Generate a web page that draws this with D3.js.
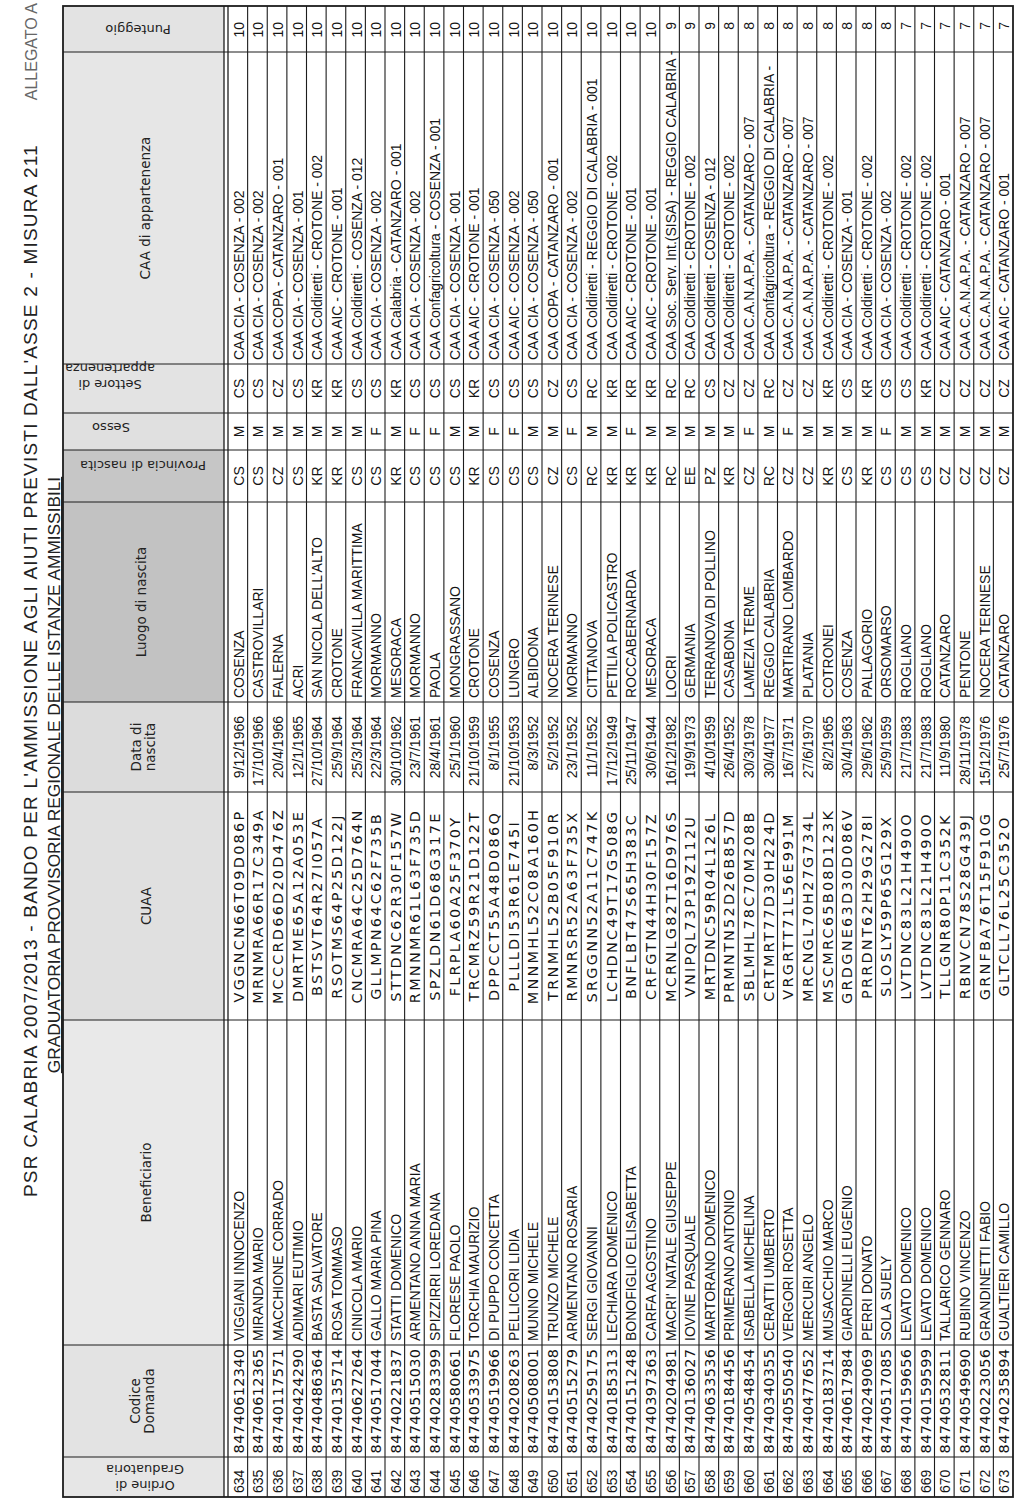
<!DOCTYPE html>
<html>
<head>
<meta charset="utf-8">
<script src="https://cdn.jsdelivr.net/npm/d3@7"></script>
<style>
  body { margin: 0; background: #fff; }
  svg { display: block; }
</style>
</head>
<body>
<script>
'use strict';

// ranking rows, one entry per row of the table
const ordine = [634, 635, 636, 637, 638, 639, 640, 641, 642, 643, 644, 645, 646, 647, 648, 649, 650, 651, 652, 653,
  654, 655, 656, 657, 658, 659, 660, 661, 662, 663, 664, 665, 666, 667, 668, 669, 670, 671, 672, 673];

const codici = ['84740612340', '84740612365', '84740117571', '84740424290', '84740486364', '84740135714',
  '84740627264', '84740517044', '84740221837', '84740515030', '84740283399', '84740580661', '84740533975',
  '84740519966', '84740208263', '84740508001', '84740153808', '84740515279', '84740259175', '84740185313',
  '84740151248', '84740397363', '84740204981', '84740136027', '84740633536', '84740184456', '84740548454',
  '84740340355', '84740550540', '84740477652', '84740183714', '84740617984', '84740249069', '84740517085',
  '84740159656', '84740159599', '84740532811', '84740549690', '84740223056', '84740235894'];

const beneficiari = ['VIGGIANI INNOCENZO', 'MIRANDA MARIO', 'MACCHIONE CORRADO', 'ADIMARI EUTIMIO',
  'BASTA SALVATORE', 'ROSA TOMMASO', 'CINICOLA MARIO', 'GALLO MARIA PINA', 'STATTI DOMENICO',
  'ARMENTANO ANNA MARIA', 'SPIZZIRRI LOREDANA', 'FLORESE PAOLO', 'TORCHIA MAURIZIO', 'DI PUPPO CONCETTA',
  'PELLICORI LIDIA', 'MUNNO MICHELE', 'TRUNZO MICHELE', 'ARMENTANO ROSARIA', 'SERGI GIOVANNI',
  'LECHIARA DOMENICO', 'BONOFIGLIO ELISABETTA', 'CARFA AGOSTINO', "MACRI' NATALE GIUSEPPE", 'IOVINE PASQUALE',
  'MARTORANO DOMENICO', 'PRIMERANO ANTONIO', 'ISABELLA MICHELINA', 'CERATTI UMBERTO', 'VERGORI ROSETTA',
  'MERCURI ANGELO', 'MUSACCHIO MARCO', 'GIARDINELLI EUGENIO', 'PERRI DONATO', 'SOLA SUELY', 'LEVATO DOMENICO',
  'LEVATO DOMENICO', 'TALLARICO GENNARO', 'RUBINO VINCENZO', 'GRANDINETTI FABIO', 'GUALTIERI CAMILLO'];

const cuaa = ['VGGNCN66T09D086P', 'MRNMRA66R17C349A', 'MCCCRD66D20D476Z', 'DMRTME65A12A053E', 'BSTSVT64R27I057A',
  'RSOTMS64P25D122J', 'CNCMRA64C25D764N', 'GLLMPN64C62F735B', 'STTDNC62R30F157W', 'RMNNMR61L63F735D',
  'SPZLDN61D68G317E', 'FLRPLA60A25F370Y', 'TRCMRZ59R21D122T', 'DPPCCT55A48D086Q', 'PLLLDI53R61E745I',
  'MNNMHL52C08A160H', 'TRNMHL52B05F910R', 'RMNRSR52A63F735X', 'SRGGNN52A11C747K', 'LCHDNC49T17G508G',
  'BNFLBT47S65H383C', 'CRFGTN44H30F157Z', 'MCRNLG82T16D976S', 'VNIPQL73P19Z112U', 'MRTDNC59R04L126L',
  'PRMNTN52D26B857D', 'SBLMHL78C70M208B', 'CRTMRT77D30H224D', 'VRGRTT71L56E991M', 'MRCNGL70H27G734L',
  'MSCMRC65B08D123K', 'GRDGNE63D30D086V', 'PRRDNT62H29G278I', 'SLOSLY59P65G129X', 'LVTDNC83L21H490O',
  'LVTDNC83L21H490O', 'TLLGNR80P11C352K', 'RBNVCN78S28G439J', 'GRNFBA76T15F910G', 'GLTCLL76L25C352O'];

const dateNascita = ['9/12/1966', '17/10/1966', '20/4/1966', '12/1/1965', '27/10/1964', '25/9/1964', '25/3/1964',
  '22/3/1964', '30/10/1962', '23/7/1961', '28/4/1961', '25/1/1960', '21/10/1959', '8/1/1955', '21/10/1953',
  '8/3/1952', '5/2/1952', '23/1/1952', '11/1/1952', '17/12/1949', '25/11/1947', '30/6/1944', '16/12/1982',
  '19/9/1973', '4/10/1959', '26/4/1952', '30/3/1978', '30/4/1977', '16/7/1971', '27/6/1970', '8/2/1965',
  '30/4/1963', '29/6/1962', '25/9/1959', '21/7/1983', '21/7/1983', '11/9/1980', '28/11/1978', '15/12/1976',
  '25/7/1976'];

const luoghi = ['COSENZA', 'CASTROVILLARI', 'FALERNA', 'ACRI', "SAN NICOLA DELL'ALTO", 'CROTONE',
  'FRANCAVILLA MARITTIMA', 'MORMANNO', 'MESORACA', 'MORMANNO', 'PAOLA', 'MONGRASSANO', 'CROTONE', 'COSENZA',
  'LUNGRO', 'ALBIDONA', 'NOCERA TERINESE', 'MORMANNO', 'CITTANOVA', 'PETILIA POLICASTRO', 'ROCCABERNARDA',
  'MESORACA', 'LOCRI', 'GERMANIA', 'TERRANOVA DI POLLINO', 'CASABONA', 'LAMEZIA TERME', 'REGGIO CALABRIA',
  'MARTIRANO LOMBARDO', 'PLATANIA', 'COTRONEI', 'COSENZA', 'PALLAGORIO', 'ORSOMARSO', 'ROGLIANO', 'ROGLIANO',
  'CATANZARO', 'PENTONE', 'NOCERA TERINESE', 'CATANZARO'];

const province = ['CS', 'CS', 'CZ', 'CS', 'KR', 'KR', 'CS', 'CS', 'KR', 'CS', 'CS', 'CS', 'KR', 'CS', 'CS', 'CS',
  'CZ', 'CS', 'RC', 'KR', 'KR', 'KR', 'RC', 'EE', 'PZ', 'KR', 'CZ', 'RC', 'CZ', 'CZ', 'KR', 'CS', 'KR', 'CS',
  'CS', 'CS', 'CZ', 'CZ', 'CZ', 'CZ'];

const sessi = ['M', 'M', 'M', 'M', 'M', 'M', 'M', 'F', 'M', 'F', 'F', 'M', 'M', 'F', 'F', 'M', 'M', 'F', 'M', 'M',
  'F', 'M', 'M', 'M', 'M', 'M', 'F', 'M', 'F', 'M', 'M', 'M', 'M', 'F', 'M', 'M', 'M', 'M', 'M', 'M'];

const settori = ['CS', 'CS', 'CZ', 'CS', 'KR', 'KR', 'CS', 'CS', 'KR', 'CS', 'CS', 'CS', 'KR', 'CS', 'CS', 'CS',
  'CZ', 'CS', 'RC', 'KR', 'KR', 'KR', 'RC', 'RC', 'CS', 'CZ', 'CZ', 'RC', 'CZ', 'CZ', 'KR', 'CS', 'KR', 'CS',
  'CS', 'KR', 'CZ', 'CZ', 'CZ', 'CZ'];

const caa = ['CAA CIA - COSENZA - 002', 'CAA CIA - COSENZA - 002', 'CAA COPA - CATANZARO - 001',
  'CAA CIA - COSENZA - 001', 'CAA Coldiretti - CROTONE - 002', 'CAA AIC - CROTONE - 001',
  'CAA Coldiretti - COSENZA - 012', 'CAA CIA - COSENZA - 002', 'CAA Calabria - CATANZARO - 001',
  'CAA CIA - COSENZA - 002', 'CAA Confagricoltura - COSENZA - 001', 'CAA CIA - COSENZA - 001',
  'CAA AIC - CROTONE - 001', 'CAA CIA - COSENZA - 050', 'CAA AIC - COSENZA - 002', 'CAA CIA - COSENZA - 050',
  'CAA COPA - CATANZARO - 001', 'CAA CIA - COSENZA - 002', 'CAA Coldiretti - REGGIO DI CALABRIA - 001',
  'CAA Coldiretti - CROTONE - 002', 'CAA AIC - CROTONE - 001', 'CAA AIC - CROTONE - 001',
  'CAA Soc. Serv. Int.(SISA) - REGGIO CALABRIA -', 'CAA Coldiretti - CROTONE - 002',
  'CAA Coldiretti - COSENZA - 012', 'CAA Coldiretti - CROTONE - 002', 'CAA C.A.N.A.P.A. - CATANZARO - 007',
  'CAA Confagricoltura - REGGIO DI CALABRIA -', 'CAA C.A.N.A.P.A. - CATANZARO - 007',
  'CAA C.A.N.A.P.A. - CATANZARO - 007', 'CAA Coldiretti - CROTONE - 002', 'CAA CIA - COSENZA - 001',
  'CAA Coldiretti - CROTONE - 002', 'CAA CIA - COSENZA - 002', 'CAA Coldiretti - CROTONE - 002',
  'CAA Coldiretti - CROTONE - 002', 'CAA AIC - CATANZARO - 001', 'CAA C.A.N.A.P.A. - CATANZARO - 007',
  'CAA C.A.N.A.P.A. - CATANZARO - 007', 'CAA AIC - CATANZARO - 001'];

const punteggi = [10, 10, 10, 10, 10, 10, 10, 10, 10, 10, 10, 10, 10, 10, 10, 10, 10, 10, 10, 10,
  10, 10, 9, 9, 9, 8, 8, 8, 8, 8, 8, 8, 8, 8, 7, 7, 7, 7, 7, 7];

// column headings
const intestazioni = [['Ordine di', 'Graduatoria'], ['Codice', 'Domanda'], ['Beneficiario'], ['CUAA'],
  ['Data di', 'nascita'], ['Luogo di nascita'], ['Provincia di nascita'], ['Sesso'],
  ['Settore di', 'appartenenza'], ['CAA di appartenenza'], ['Punteggio']];

const titolo = "PSR CALABRIA 2007/2013 - BANDO PER L'AMMISSIONE AGLI AIUTI PREVISTI DALL'ASSE 2 - MISURA 211";
const sottotitolo = 'GRADUATORIA PROVVISORIA REGIONALE DELLE ISTANZE AMMISSIBILI';
const allegato = 'ALLEGATO A';

(function() {

  const W = 1024, H = 1508;

  // layout of the rotated table (u runs along the table, v across it)
  const tableLeft = 11;
  const colWidths = [40, 112, 325, 228, 90, 200, 52, 37, 49, 312, 46];
  const colAlign = ['start', 'middle', 'start', 'middle', 'end', 'start', 'middle', 'middle', 'middle', 'start', 'end'];
  const colPad = [4, 0, 4, 0, 14, 4, 0, 0, 0, 4, 16];
  const colFont = ['sans', 'wide', 'sans', 'mono', 'sans', 'sans', 'sans', 'sans', 'sans', 'sans', 'sans'];
  // narrow columns carry vertical headings in the sheet
  const headVertical = [true, false, false, false, false, false, true, true, true, false, true];
  const headCenter = [145, 142, 146, 146, 143, 141, 143, 111, 110, 145, 138];
  const headShift = [0, 0, 0, 0, 0, 0, 11, 4, 12, 0, 0];
  const headFill = ['#e6e6e6', '#e3e3e3', '#e9e9e9', '#e0e0e0', '#dcdcdc', '#c2c2c2', '#c6c6c6', '#e0e0e0',
    '#e3e3e3', '#e6e6e6', '#e3e3e3'];
  const headTop = 63, headBottom = 224, bodyTop = 228, bodyBottom = 1013;

  const fonts = {
    sans: { family: '"Liberation Sans", Arial, sans-serif', size: '14px', spacing: 0 },
    wide: { family: '"DejaVu Sans", Verdana, sans-serif', size: '14.5px', spacing: 0.3 },
    mono: { family: '"DejaVu Sans", Verdana, sans-serif', size: '14.5px', spacing: 2.2 }
  };

  let svg = null;
  let table = null;

  window.onload = function() {
    svg = d3.select('body').append('svg')
      .attr('width', W)
      .attr('height', H);

    svg.append('rect').attr('width', W).attr('height', H).attr('fill', '#fff');

    // the whole sheet is printed landscape and turned a quarter to the left
    table = svg.append('g')
      .attr('transform', 'translate(0,' + H + ') rotate(-90)');

    let edges = [tableLeft].concat(Array.from(d3.cumsum(colWidths), (d) => d + tableLeft));

    let rowScale = d3.scaleBand()
      .domain(ordine)
      .range([bodyTop, bodyBottom]);

    drawTitles();
    drawHeader(edges);
    drawRows(edges, rowScale);
    drawGrid(edges, rowScale);
  };

  function drawTitles() {
    table.append('text')
      .attr('x', 311)
      .attr('y', 37)
      .style('font-family', '"Liberation Sans", Arial, sans-serif')
      .style('font-size', '19px')
      .style('letter-spacing', '1.2px')
      .style('fill', '#222')
      .text(titolo);

    table.append('text')
      .attr('x', 733)
      .attr('y', 60)
      .attr('text-anchor', 'middle')
      .style('font-family', '"Liberation Sans", Arial, sans-serif')
      .style('font-size', '17.3px')
      .style('fill', '#222')
      .style('text-decoration', 'underline')
      .text(sottotitolo);

    table.append('text')
      .attr('x', 1505)
      .attr('y', 37)
      .attr('text-anchor', 'end')
      .style('font-family', '"Liberation Sans", Arial, sans-serif')
      .style('font-size', '16px')
      .style('fill', '#666')
      .text(allegato);
  }

  function drawHeader(edges) {
    let head = table.append('g').attr('class', 'header');

    head.selectAll('rect')
      .data(intestazioni)
      .enter()
      .append('rect')
        .attr('x', (d, i) => edges[i])
        .attr('y', headTop)
        .attr('width', (d, i) => edges[i + 1] - edges[i])
        .attr('height', headBottom - headTop)
        .attr('fill', (d, i) => headFill[i]);

    let labels = head.selectAll('.label')
      .data(intestazioni)
      .enter()
      .append('g')
        .attr('class', 'label')
        .attr('transform', (d, i) => {
          let cx = (edges[i] + edges[i + 1]) / 2 + headShift[i];
          return 'translate(' + cx + ',' + headCenter[i] + ')' + (headVertical[i] ? ' rotate(-90)' : '');
        });

    labels.each(function(lines, i) {
      let lineH = headVertical[i] ? 16 : 14;
      let t = d3.select(this).append('text')
        .attr('text-anchor', 'middle')
        .style('font-family', '"DejaVu Sans", Verdana, sans-serif')
        .style('font-size', headVertical[i] ? '13px' : '13.5px')
        .style('fill', '#222');
      lines.forEach((line, k) => {
        t.append('tspan')
          .attr('x', 0)
          .attr('y', (k - (lines.length - 1) / 2) * lineH)
          .attr('dominant-baseline', 'central')
          .text(line);
      });
    });
  }

  function drawRows(edges, rowScale) {
    let columns = [ordine, codici, beneficiari, cuaa, dateNascita, luoghi, province, sessi, settori, caa, punteggi];
    let rows = ordine.map((o, r) => columns.map((col) => col[r]));

    let rowGroups = table.selectAll('.row')
      .data(rows)
      .enter()
      .append('g')
        .attr('class', 'row')
        .attr('transform', (d) => 'translate(0,' + (rowScale(d[0]) + rowScale.bandwidth() / 2) + ')');

    rowGroups.selectAll('text')
      .data((d) => d)
      .enter()
      .append('text')
        .attr('x', (d, i) => {
          if (colAlign[i] === 'start') return edges[i] + colPad[i];
          if (colAlign[i] === 'end') return edges[i + 1] - colPad[i];
          return (edges[i] + edges[i + 1]) / 2;
        })
        .attr('y', 1)
        .attr('dominant-baseline', 'central')
        .attr('text-anchor', (d, i) => colAlign[i])
        .style('font-family', (d, i) => fonts[colFont[i]].family)
        .style('font-size', (d, i) => fonts[colFont[i]].size)
        .style('letter-spacing', (d, i) => fonts[colFont[i]].spacing + 'px')
        .style('fill', '#151515')
        .text((d) => d);
  }

  function drawGrid(edges, rowScale) {
    let grid = table.append('g')
      .attr('stroke', '#1c1c1c')
      .attr('fill', 'none');

    let left = edges[0], right = edges[edges.length - 1];

    // row separators
    grid.selectAll('.hline')
      .data(ordine.slice(0, -1))
      .enter()
      .append('line')
        .attr('x1', left)
        .attr('x2', right)
        .attr('y1', (d) => rowScale(d) + rowScale.bandwidth())
        .attr('y2', (d) => rowScale(d) + rowScale.bandwidth())
        .attr('stroke-width', 1.1);

    // column separators
    grid.selectAll('.vline')
      .data(edges.slice(1, -1))
      .enter()
      .append('line')
        .attr('x1', (d) => d)
        .attr('x2', (d) => d)
        .attr('y1', headTop)
        .attr('y2', bodyBottom)
        .attr('stroke-width', 1.2);

    // double rule under the headings
    grid.selectAll('.dbl')
      .data([headBottom, bodyTop])
      .enter()
      .append('line')
        .attr('x1', left)
        .attr('x2', right)
        .attr('y1', (d) => d)
        .attr('y2', (d) => d)
        .attr('stroke-width', 1.3);

    // outer frame
    grid.append('rect')
      .attr('x', left)
      .attr('y', headTop)
      .attr('width', right - left)
      .attr('height', bodyBottom - headTop)
      .attr('stroke-width', 1.8);
  }

})();
</script>
</body>
</html>
